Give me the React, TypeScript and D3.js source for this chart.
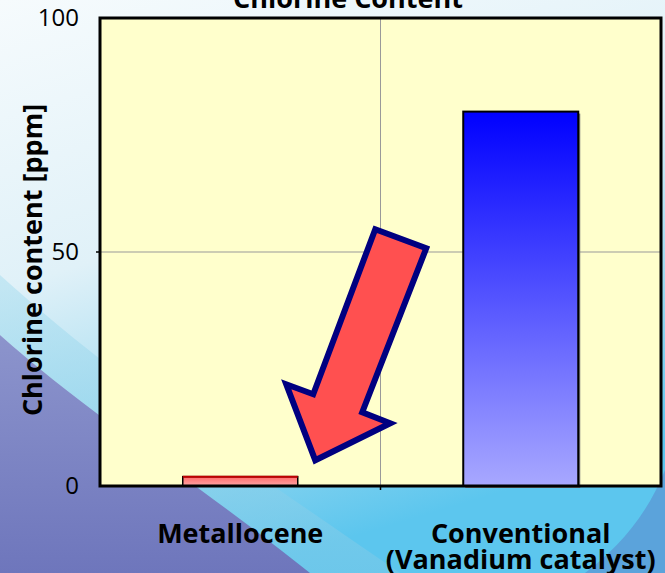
import * as d3 from "d3";

// chart values
const categories = ["Metallocene", "Conventional"];
const categoryLines = [["Metallocene"], ["Conventional", "(Vanadium catalyst)"]];
const chlorine = [2, 80];
const yTicks = [0, 50, 100];
const title = "Chlorine Content";
const yTitle = "Chlorine content [ppm]";

// arrow outline relative to its tip (px)
const arrowShape: [number, number][] = [
  [60, -231], [111, -212], [47, -48], [75, -37], [0, 0], [-29, -76], [-2, -66]
];

const W = 665;
const H = 573;
const M = { left: 100, right: 4, top: 18, bottom: 87 };
const FONT = "'Open Sans', sans-serif";

export default function App() {
  const x = d3.scaleBand().domain(categories).range([M.left, W - M.right]).padding(0);
  const y = d3.scaleLinear().domain([0, 100]).range([H - M.bottom, M.top]);
  const barW = x.bandwidth() * 0.41;
  const plotW = W - M.right - M.left;
  const plotH = H - M.bottom - M.top;

  const tipX = (x("Metallocene") ?? 0) + x.bandwidth() / 2 + 75;
  const tipY = y(5.5);
  const arrow = d3.line()(arrowShape.map(([dx, dy]) => [tipX + dx, tipY + dy] as [number, number])) + "Z";

  const purple = "M0,335 C90,415 200,485 310,573 L0,573 Z";
  const cyanBand = "M0,275 C110,375 250,470 400,573 L310,573 C200,485 90,415 0,335 Z";
  const cornerSwirl = "M665,470 C645,520 615,550 585,573 L665,573 Z";

  return (
    <svg width={W} height={H} style={{ position: "absolute", left: 0, top: 0 }} fontFamily={FONT}>
      <defs>
        <linearGradient id="bg" x1="0" y1="0" x2="0.35" y2="1">
          <stop offset="0" stopColor="#f6fbfd" />
          <stop offset="0.45" stopColor="#e0f1f8" />
          <stop offset="0.8" stopColor="#92d6ef" />
          <stop offset="1" stopColor="#5cc6ee" />
        </linearGradient>
        <linearGradient id="purp" x1="0" y1="0" x2="0" y2="1">
          <stop offset="0" stopColor="#8c94cc" />
          <stop offset="1" stopColor="#6e76bc" />
        </linearGradient>
        <linearGradient id="cyanb" x1="0" y1="0" x2="0" y2="1">
          <stop offset="0" stopColor="#b0e0f0" />
          <stop offset="1" stopColor="#78c8e8" />
        </linearGradient>
        <linearGradient id="blueBar" x1="0" y1="0" x2="0" y2="1">
          <stop offset="0" stopColor="#0000ff" />
          <stop offset="1" stopColor="#a8a8ff" />
        </linearGradient>
        <linearGradient id="redBar" x1="0" y1="0" x2="0" y2="1">
          <stop offset="0" stopColor="#ff6a6a" />
          <stop offset="1" stopColor="#ffa6a6" />
        </linearGradient>
      </defs>

      <rect width={W} height={H} fill="url(#bg)" />
      <path d={cyanBand} fill="url(#cyanb)" opacity={0.6} />
      <path d={purple} fill="url(#purp)" />
      <path d={cornerSwirl} fill="#5a80c8" opacity={0.5} />

      <rect x={M.left} y={M.top} width={plotW} height={plotH} fill="#ffffcc" />

      {/* gridlines */}
      <line x1={M.left} x2={W - M.right} y1={y(50)} y2={y(50)} stroke="#999" strokeWidth={1} />
      <line x1={x("Conventional")} x2={x("Conventional")} y1={M.top} y2={y(0)} stroke="#999" strokeWidth={1} />

      {/* bars */}
      {categories.map((c, i) => {
        const bx = (x(c) ?? 0) + (x.bandwidth() - barW) / 2;
        const isRed = i === 0;
        return (
          <g key={c}>
            {!isRed && (
              <rect x={bx + 2} y={y(chlorine[i]) + 2} width={barW} height={y(0) - y(chlorine[i])} fill="#777" />
            )}
            <rect
              x={bx}
              y={y(chlorine[i])}
              width={barW}
              height={y(0) - y(chlorine[i])}
              fill={isRed ? "url(#redBar)" : "url(#blueBar)"}
              stroke="#000"
              strokeWidth={isRed ? 1.5 : 2}
            />
            {isRed && (
              <line x1={bx} x2={bx + barW} y1={y(chlorine[i])} y2={y(chlorine[i])} stroke="#c00000" strokeWidth={2} />
            )}
          </g>
        );
      })}

      {/* arrow */}
      <path d={arrow} fill="#ff5050" stroke="#000080" strokeWidth={6} strokeLinejoin="miter" />

      {/* frame */}
      <rect x={M.left} y={M.top} width={plotW} height={plotH} fill="none" stroke="#000" strokeWidth={3} />
      <line x1={x("Conventional")} x2={x("Conventional")} y1={y(0)} y2={y(0) + 4} stroke="#000" strokeWidth={1.5} />
      <line x1={M.left - 4} x2={M.left} y1={y(50)} y2={y(50)} stroke="#000" strokeWidth={1.5} />

      {/* y ticks */}
      {yTicks.map((t) => (
        <text key={t} x={M.left - 21} y={y(t)} dy="0.35em" textAnchor="end" fontSize={24} fill="#000">
          {t}
        </text>
      ))}

      {/* x labels */}
      {categories.map((c, i) => (
        <text key={c} x={(x(c) ?? 0) + x.bandwidth() / 2} y={543} textAnchor="middle" fontSize={27} fontWeight="bold">
          {categoryLines[i].map((l, j) => (
            <tspan key={l} x={(x(c) ?? 0) + x.bandwidth() / 2} dy={j === 0 ? 0 : 26}>
              {l}
            </tspan>
          ))}
        </text>
      ))}

      <text transform={`translate(42,260) rotate(-90)`} textAnchor="middle" fontSize={27} fontWeight="bold">
        {yTitle}
      </text>

      <text x={348} y={8} textAnchor="middle" fontSize={27} fontWeight="bold">
        {title}
      </text>
    </svg>
  );
}
